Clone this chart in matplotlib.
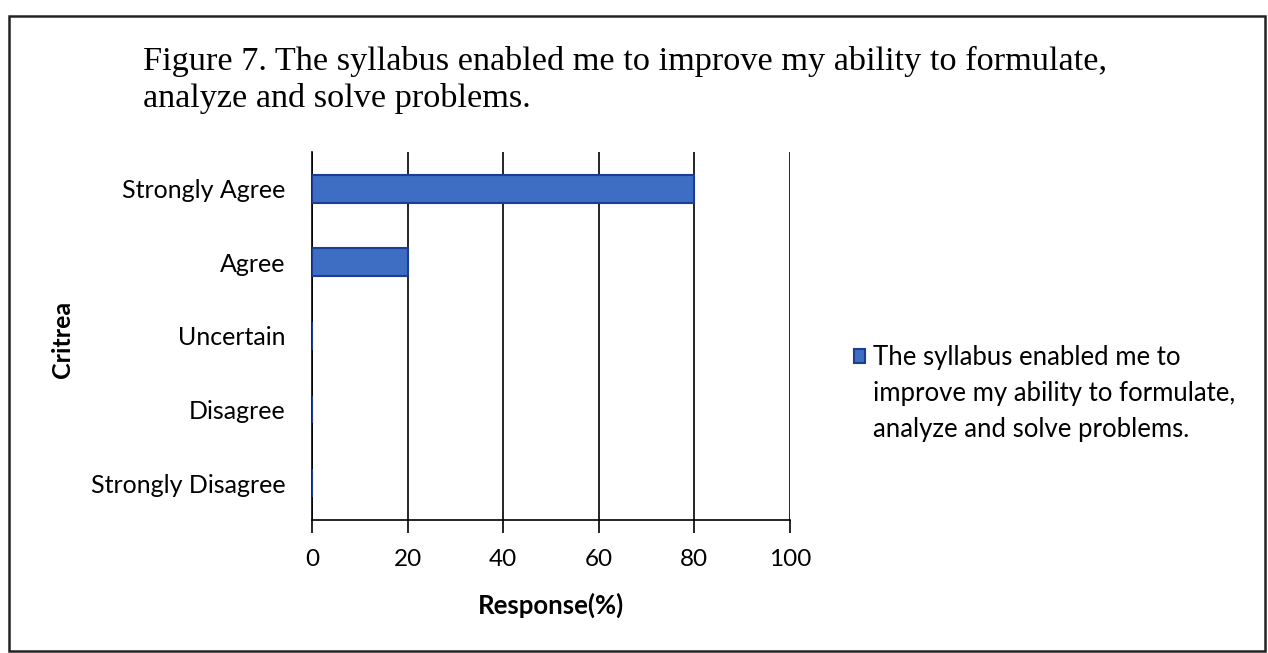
import matplotlib.pyplot as plt
import matplotlib.patches as patches
from matplotlib.legend_handler import HandlerPatch

# Data
categories = ['Strongly Agree', 'Agree', 'Uncertain', 'Disagree', 'Strongly Disagree']
responses = [80, 20, 0, 0, 0]
xticks = [0, 20, 40, 60, 80, 100]
series_label = 'The syllabus enabled me to\nimprove my ability to formulate,\nanalyze and solve problems.'
title = 'Figure 7. The syllabus enabled me to improve my ability to formulate,\nanalyze and solve problems.'


class TopHandler(HandlerPatch):
    # put the legend square beside the first line of a multi-line label
    def _create_patch(self, legend, orig_handle, xdescent, ydescent, width, height, fontsize):
        return patches.Rectangle((-xdescent, -ydescent + 1.5 * fontsize), width, height)


def first_bar(handle, orig):
    handle.update_from(orig.patches[0])


plt.rcParams['font.family'] = ['Lato', 'DejaVu Sans']
fig = plt.figure(figsize=(12.68, 6.53), dpi=100)
ax = fig.add_axes([0.246, 0.204, 0.377, 0.563])

ypos = list(range(len(categories)))[::-1]
bars = ax.barh(ypos, responses, height=0.38, color='#3d6ec4', edgecolor='#1c3d94', lw=1.5,
               label=series_label, zorder=3)

ax.set_xlim(0, 100)
ax.set_ylim(-0.5, len(categories) - 0.5)
ax.set_xticks(xticks)
ax.set_yticks(ypos)
ax.set_yticklabels(categories, fontsize=18)
ax.tick_params(axis='y', length=0, pad=19)
ax.tick_params(axis='x', length=9, width=1.2, direction='out', labelsize=17.5, pad=12)
ax.grid(axis='x', color='black', lw=1.2, zorder=0)
for s in ['top', 'right']:
    ax.spines[s].set_visible(False)
ax.spines['left'].set_linewidth(1.2)
ax.spines['bottom'].set_linewidth(1.2)

ax.set_xlabel('Response(%)', fontsize=18.5, fontweight='bold', labelpad=16)
ax.set_ylabel('Critrea', fontsize=18, fontweight='bold')
ax.yaxis.set_label_coords(-0.498, 0.49)

leg = fig.legend(loc='upper left', bbox_to_anchor=(0.655, 0.507), frameon=False, fontsize=18.5,
                 handlelength=0.45, handleheight=0.45, handletextpad=0.3, labelspacing=0.2,
                 handler_map={type(bars): TopHandler(update_func=first_bar)})
for t in leg.get_texts():
    t.set_linespacing(1.55)

fig.text(0.113, 0.929, title, fontsize=24.7, family='Liberation Serif', va='top', ha='left',
         linespacing=1.22)

# Outer frame round the figure
frame = patches.Rectangle((0.007, 0.003), 0.991, 0.973, transform=fig.transFigure, fill=False,
                          lw=1.8, edgecolor='#222222')
fig.patches.append(frame)

fig.savefig('out.png', dpi=100)
